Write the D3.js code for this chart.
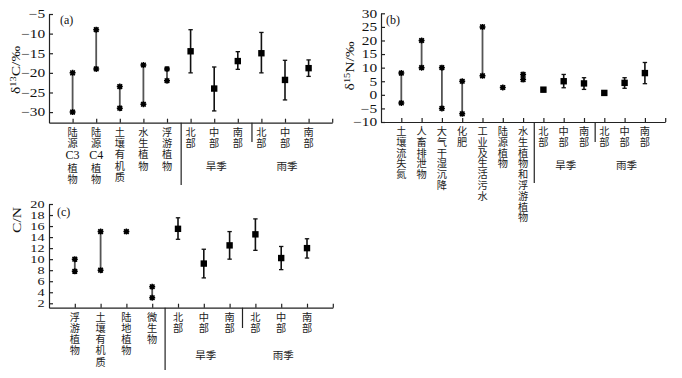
<!DOCTYPE html>
<html>
<head>
<meta charset="utf-8">
<script src="https://cdn.jsdelivr.net/npm/d3@7"></script>
<style>
  body { margin: 0; background: #fff; }
  svg text { font-family: "Liberation Serif", "Times New Roman", serif; fill: #111; }
  svg .cjk { font-family: "Liberation Serif", "Noto Sans CJK SC", serif; fill: #222; }
  .domain, .tick line { stroke: #222; stroke-width: 1.2; }
</style>
</head>
<body>
<svg id="chart" width="682" height="378"></svg>
<script>
// (a) δ13C
const catsA = ["陆源C3植物", "陆源C4植物", "土壤有机质", "水生植物", "浮游植物", "北部", "中部", "南部", "北部", "中部", "南部"];
const srcA = [[-20, -30], [-9, -19], [-23.5, -29], [-18, -28], [-19, -22]];
const meanA = [-14.5, -24, -17, -15, -21.8, -18.8];
const hiA = [-9, -18.5, -14.6, -9.7, -16.8, -16.7];
const loA = [-20, -29.7, -19.1, -20, -26.9, -20.9];
const ticksA = [-30, -25, -20, -15, -10, -5];

// (b) δ15N
const catsB = ["土壤流失氮", "人畜排泄物", "大气干湿沉降", "化肥", "工业及生活污水", "陆源植物", "水生植物和浮游植物", "北部", "中部", "南部", "北部", "中部", "南部"];
const srcB = [[8, -3], [20, 10], [10, -5], [5, -7], [25, 7], [2.7], [7.5, 5.6]];
const meanB = [1.9, 5, 4.2, 0.7, 4.4, 8];
const hiB = [2.6, 7.5, 6.3, 1.2, 6.3, 11.9];
const loB = [1.2, 2.6, 2, 0.2, 2.4, 4.1];
const ticksB = [-10, -5, 0, 5, 10, 15, 20, 25, 30];

// (c) C/N
const catsC = ["浮游植物", "土壤有机质", "陆地植物", "微生物", "北部", "中部", "南部", "北部", "中部", "南部"];
const srcC = [[10, 7.8], [15, 8], [15], [5, 3]];
const meanC = [15.5, 9.2, 12.5, 14.5, 10.2, 12];
const hiC = [17.5, 11.8, 15, 17.3, 12.3, 13.7];
const loC = [13.6, 6.6, 10, 11.6, 8.1, 10.2];
const ticksC = [2, 4, 6, 8, 10, 12, 14, 16, 18, 20];

const seasons = ["旱季", "雨季"];

const svg = d3.select("#chart");

// 8-armed star marker used for the source ranges
const starPath = (() => {
  const r = 3, q = 2.3, p = d3.path();
  p.moveTo(-r, 0); p.lineTo(r, 0);
  p.moveTo(0, -r); p.lineTo(0, r);
  p.moveTo(-q, -q); p.lineTo(q, q);
  p.moveTo(-q, q); p.lineTo(q, -q);
  return p.toString();
})();

function drawPanel(p) {
  const g = svg.append("g");
  const n = p.cats.length;
  const x = d3.scaleLinear().domain([0, n + 1]).range([p.left, p.right]);
  const y = d3.scaleLinear().domain(p.yDomain).range([p.bottom, p.top]);

  const ya = g.append("g")
    .attr("transform", `translate(${p.left},0)`)
    .call(d3.axisLeft(y).tickValues(p.yTicks).tickSizeInner(-4).tickSizeOuter(0).tickPadding(3));
  ya.selectAll("text").style("font-size", p.tickFont + "px").attr("transform", `scale(${p.tickStretch},1)`);

  g.append("g")
    .attr("transform", `translate(0,${p.bottom})`)
    .call(d3.axisBottom(x).tickValues(d3.range(1, n + 2)).tickSizeInner(-4).tickSizeOuter(0).tickFormat(""));

  // source ranges
  p.src.forEach((v, i) => {
    const xi = x(i + 1);
    if (v.length > 1) {
      g.append("line").attr("x1", xi).attr("x2", xi)
        .attr("y1", y(v[0])).attr("y2", y(v[1]))
        .attr("stroke", "#555").attr("stroke-width", 1.8);
    }
    v.forEach(val => {
      g.append("rect").attr("x", xi - 2).attr("y", y(val) - 2)
        .attr("width", 4).attr("height", 4).attr("fill", "#000");
      g.append("path").attr("d", starPath)
        .attr("transform", `translate(${xi},${y(val)})`)
        .attr("fill", "none").attr("stroke", "#000").attr("stroke-width", 1.5);
    });
  });

  // sites mean with error bars
  p.mean.forEach((m, j) => {
    const xi = x(p.src.length + j + 1);
    g.append("line").attr("x1", xi).attr("x2", xi)
      .attr("y1", y(p.hi[j])).attr("y2", y(p.lo[j]))
      .attr("stroke", "#111").attr("stroke-width", 1.6);
    [p.hi[j], p.lo[j]].forEach(val => {
      g.append("line").attr("x1", xi - 2.2).attr("x2", xi + 2.2)
        .attr("y1", y(val)).attr("y2", y(val))
        .attr("stroke", "#111").attr("stroke-width", 1.3);
    });
    g.append("rect").attr("x", xi - 3.2).attr("y", y(m) - 3.2)
      .attr("width", 6.4).attr("height", 6.4).attr("fill", "#000");
  });

  // vertical category labels, one character per row ("C3"/"C4" kept as one row)
  p.cats.forEach((c, i) => {
    let yy = p.bottom + 9.5;
    c.match(/[A-Za-z]\d|./g).forEach(tok => {
      const latin = /[A-Za-z]/.test(tok);
      g.append("text").attr("class", latin ? null : "cjk")
        .attr("text-anchor", "middle").attr("dominant-baseline", "central")
        .attr("x", x(i + 1)).attr("y", yy)
        .style("font-size", latin ? "12px" : "10.2px")
        .text(tok);
      yy += p.pitch + (latin ? 2.5 : 0);
    });
  });

  // group separators
  const s0 = p.src.length;
  g.append("line").attr("x1", x(s0 + p.sepOff)).attr("x2", x(s0 + p.sepOff))
    .attr("y1", p.bottom).attr("y2", p.sepLong).attr("stroke", "#222").attr("stroke-width", 1.2);
  g.append("line").attr("x1", x(s0 + 3 + p.sepOff)).attr("x2", x(s0 + 3 + p.sepOff))
    .attr("y1", p.bottom).attr("y2", p.sepShort).attr("stroke", "#222").attr("stroke-width", 1.2);

  seasons.forEach((s, k) => {
    g.append("text").attr("class", "cjk").attr("text-anchor", "middle")
      .attr("dominant-baseline", "central").style("font-size", "10.5px")
      .attr("x", x(s0 + 2 + 3 * k) + 2).attr("y", p.seasonY).text(s);
  });

  g.append("text").attr("x", p.tag[0]).attr("y", p.tag[1])
    .style("font-size", "12px").text(p.tagText);

  const yl = g.append("text").attr("text-anchor", "middle")
    .attr("transform", `translate(${p.ylab[0]},${p.ylab[1]}) rotate(-90) scale(1.3,1)`)
    .style("font-size", "12px");
  p.ylabParts.forEach(([txt, sup]) => {
    yl.append("tspan").attr("baseline-shift", sup ? "super" : null)
      .style("font-size", sup ? "8px" : null).text(txt);
  });
}

drawPanel({
  cats: catsA, src: srcA, mean: meanA, hi: hiA, lo: loA, yTicks: ticksA,
  yDomain: [-32.7, -5], left: 49, right: 332.2, top: 14, bottom: 122.7,
  tickFont: 12, tickStretch: 1.28,
  pitch: 11.3, sepOff: 0.6, sepLong: 185, sepShort: 142, seasonY: 166,
  tag: [60, 24], tagText: "(a)", ylab: [20, 70], ylabParts: [["δ", false], ["13", true], ["C/‰", false]]
});

drawPanel({
  cats: catsB, src: srcB, mean: meanB, hi: hiB, lo: loB, yTicks: ticksB,
  yDomain: [-10, 30], left: 381, right: 665.2, top: 13.3, bottom: 122,
  tickFont: 12, tickStretch: 1.28,
  pitch: 10.8, sepOff: 0.55, sepLong: 183, sepShort: 142, seasonY: 165,
  tag: [386, 24], tagText: "(b)", ylab: [354, 66], ylabParts: [["δ", false], ["15", true], ["N/‰", false]]
});

drawPanel({
  cats: catsC, src: srcC, mean: meanC, hi: hiC, lo: loC, yTicks: ticksC,
  yDomain: [1.2, 20], left: 49, right: 332.8, top: 204, bottom: 307.7,
  tickFont: 9.5, tickStretch: 1.5,
  pitch: 11.2, sepOff: 0.5, sepLong: 370, sepShort: 328, seasonY: 355,
  tag: [57, 216], tagText: "(c)", ylab: [21, 220], ylabParts: [["C/N", false]]
});
</script>
</body>
</html>
